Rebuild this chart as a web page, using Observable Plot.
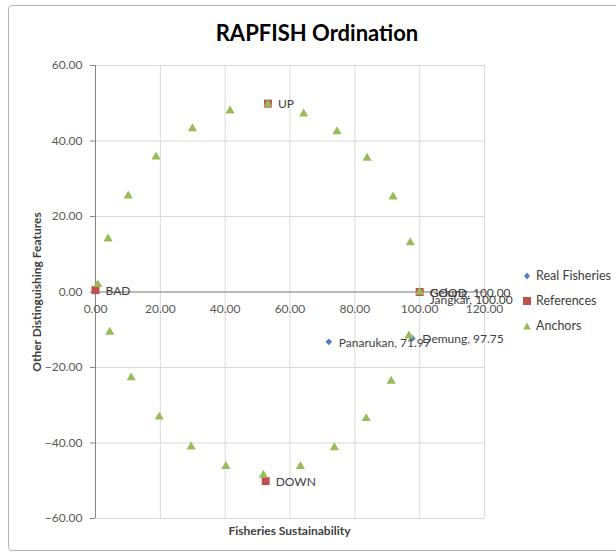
<!DOCTYPE html>
<html>
<head>
<meta charset="utf-8">
<script src="https://cdn.jsdelivr.net/npm/d3@7"></script>
<script src="https://cdn.jsdelivr.net/npm/@observablehq/plot@0.6"></script>
<style>
  html, body { margin: 0; padding: 0; background: #fff; overflow: hidden; }
  #wrap { position: relative; width: 616px; height: 554px; font-family: Lato, "Open Sans", sans-serif; }
  #frame { position: absolute; left: 8px; top: 5px; width: 640px; height: 546px; border: 1px solid #b5b5b5; border-radius: 4px; box-sizing: border-box; }
  #chart { position: absolute; left: 0; top: 0; }
  .title { position: absolute; left: 0; width: 634px; top: 19px; text-align: center; font-weight: bold; font-size: 22px; color: #000; }
  .xlab { position: absolute; left: 95px; width: 389px; top: 523px; text-align: center; font-weight: bold; font-size: 12px; color: #404040; }
  .ylab { position: absolute; left: 36px; top: 292px; transform: translate(-50%, -50%) rotate(-90deg); white-space: nowrap; font-weight: bold; font-size: 12px; color: #404040; }
  .legend { position: absolute; left: 523px; top: 268px; font-size: 12.5px; color: #404040; }
  .legend div { height: 25px; display: flex; align-items: flex-start; }
  .legend svg { margin-right: 5px; margin-top: 3px; }
</style>
</head>
<body>
<div id="wrap">
  <div id="frame"></div>
  <div id="chart"></div>
  <div class="title">RAPFISH Ordination</div>
  <div class="xlab">Fisheries Sustainability</div>
  <div class="ylab">Other Distinguishing Features</div>
  <div class="legend" id="legend"></div>
</div>
<script>
// ---- data ----
const seriesNames = ["Real Fisheries", "References", "Anchors"];
const seriesColors = ["#4f81bd", "#c0504d", "#9bbb59"];

const realNames = ["Gelung", "Jangkar", "Panarukan", "Demung"];
const realX = [100.00, 100.00, 71.97, 97.75];
const realY = [0.0, 0.0, -13.2, -12.3];

const refNames = ["BAD", "UP", "DOWN", "GOOD"];
const refX = [0.0, 53.2, 52.5, 100.0];
const refY = [0.5, 49.9, -50.1, 0.0];

const anchorX = [0.7, 3.9, 10.1, 18.7, 29.9, 41.5, 53.2, 64.2, 74.5, 83.8, 91.8, 97.1, 100.0,
                 96.7, 91.2, 83.5, 73.7, 63.2, 51.8, 40.2, 29.5, 19.7, 11.0, 4.4];
const anchorY = [2.0, 14.1, 25.5, 35.8, 43.3, 48.0, 49.8, 47.2, 42.5, 35.5, 25.2, 13.1, 0.0,
                 -11.6, -23.6, -33.5, -41.2, -46.2, -48.5, -46.2, -41.0, -33.1, -22.7, -10.6];

const xTicks = [0, 20, 40, 60, 80, 100, 120];
const yTicks = [-60, -40, -20, 0, 20, 40, 60];

// ---- tables ----
const real = realNames.map((n, i) => ({name: n, x: realX[i], y: realY[i]}));
const refs = refNames.map((n, i) => ({name: n, x: refX[i], y: refY[i]}));
const anchors = anchorX.map((x, i) => ({x, y: anchorY[i]}));
const fmt = d3.format(".2f");

const labelColor = "#404040";

const chart = Plot.plot({
  width: 616,
  height: 554,
  marginLeft: 95,
  marginRight: 132,
  marginTop: 65,
  marginBottom: 36,
  x: {domain: [0, 120], axis: null},
  y: {domain: [-60, 60], axis: null},
  style: {fontFamily: "Lato, 'Open Sans', sans-serif", fontSize: "12px", color: "#595959", background: "transparent"},
  marks: [
    Plot.gridX(xTicks, {stroke: "#d9d9d9", strokeOpacity: 1}),
    Plot.gridY(yTicks, {stroke: "#d9d9d9", strokeOpacity: 1}),
    Plot.ruleY([0], {stroke: "#868686"}),
    Plot.ruleX([0], {stroke: "#868686"}),
    Plot.axisY(yTicks, {anchor: "left", tickSize: 5, tickPadding: 8, tickFormat: fmt, label: null, stroke: "#868686", fill: "#595959"}),
    Plot.text(xTicks, {x: d => d, y: () => 0, text: d => fmt(d), dy: 17, fill: "#595959"}),
    // series
    Plot.dot(real, {x: "x", y: "y", symbol: "diamond2", r: 3, fill: seriesColors[0], stroke: "none"}),
    Plot.dot(refs, {x: "x", y: "y", symbol: "square", r: 4.5, fill: seriesColors[1], stroke: "none"}),
    Plot.dot(anchors, {x: "x", y: "y", symbol: "triangle", r: 3.4, fill: seriesColors[2], stroke: "none"}),
    // labels
    Plot.text(refs, {x: "x", y: "y", text: "name", textAnchor: "start", dx: 10, dy: 1, fill: labelColor}),
    Plot.text(real.filter(d => d.name !== "Jangkar"), {x: "x", y: "y", text: d => `${d.name}, ${fmt(d.x)}`, textAnchor: "start", dx: 10, dy: 1, fill: labelColor}),
    Plot.text(real.filter(d => d.name === "Jangkar"), {x: "x", y: "y", text: d => `${d.name}, ${fmt(d.x)}`, textAnchor: "start", dx: 10, dy: 8, fill: labelColor})
  ]
});
document.getElementById("chart").appendChild(chart);

// legend
const symPaths = [
  '<svg width="8" height="10"><path d="M4 1.5 L7 5 L4 8.5 L1 5 Z" fill="' + seriesColors[0] + '"/></svg>',
  '<svg width="8" height="10"><rect x="0" y="1" width="8" height="8" fill="' + seriesColors[1] + '"/></svg>',
  '<svg width="8" height="10"><path d="M4 1.5 L8 8.5 L0 8.5 Z" fill="' + seriesColors[2] + '"/></svg>'
];
const leg = document.getElementById("legend");
seriesNames.forEach((n, i) => {
  const row = document.createElement("div");
  row.innerHTML = symPaths[i] + "<span>" + n + "</span>";
  leg.appendChild(row);
});
</script>
</body>
</html>
